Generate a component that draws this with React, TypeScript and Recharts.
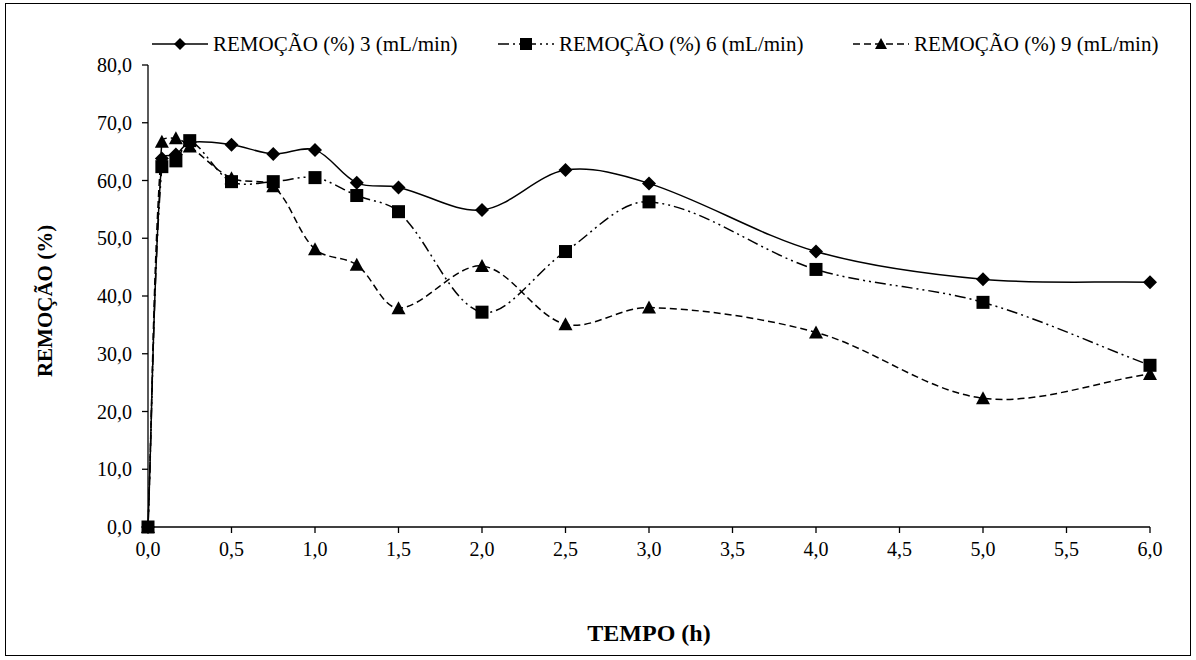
import React from 'react';
import { LineChart, Line, XAxis, YAxis, Label } from 'recharts';

// Sampling times (h)
const tempoH = [0, 0.083, 0.167, 0.25, 0.5, 0.75, 1.0, 1.25, 1.5, 2.0, 2.5, 3.0, 4.0, 5.0, 6.0];

// Removal (%) for each flow rate
const remocao3 = [0, 63.8, 64.5, 66.6, 66.2, 64.6, 65.3, 59.6, 58.8, 54.9, 61.8, 59.5, 47.7, 42.9, 42.4];
const remocao6 = [0, 62.4, 63.4, 66.9, 59.8, 59.8, 60.5, 57.4, 54.6, 37.2, 47.7, 56.3, 44.6, 38.9, 28.0];
const remocao9 = [0, 66.7, 67.3, 65.9, 60.4, 59.0, 48.1, 45.4, 37.9, 45.2, 35.1, 38.0, 33.7, 22.3, 26.5];

const seriesNames = ['REMOÇÃO (%) 3 (mL/min)', 'REMOÇÃO (%) 6 (mL/min)', 'REMOÇÃO (%) 9 (mL/min)'];

const xTicks = [0, 0.5, 1, 1.5, 2, 2.5, 3, 3.5, 4, 4.5, 5, 5.5, 6];
const yTicks = [0, 10, 20, 30, 40, 50, 60, 70, 80];

const xTitle = 'TEMPO (h)';
const yTitle = 'REMOÇÃO (%)';

const data = tempoH.map((t, i) => ({ t, r3: remocao3[i], r6: remocao6[i], r9: remocao9[i] }));

const FONT = '"Liberation Serif", "Times New Roman", serif';
const DASH6 = '11 4 2 4 2 4';
const DASH9 = '7 4';

const fmt = (v: number) => v.toFixed(1).replace('.', ',');

// Smoothed line: cubic Bézier segments whose control arms follow the
// neighbour chord and are scaled by the adjacent segment lengths.
function smoothCurve(context: any) {
  let pts: [number, number][] = [];
  const dist = (a: [number, number], b: [number, number]) => Math.hypot(b[0] - a[0], b[1] - a[1]);
  return {
    areaStart() {},
    areaEnd() {},
    lineStart() {
      pts = [];
    },
    point(x: number, y: number) {
      pts.push([+x, +y]);
    },
    lineEnd() {
      const n = pts.length;
      if (!n) return;
      context.moveTo(pts[0][0], pts[0][1]);
      if (n === 1) return;
      for (let i = 0; i < n - 1; i++) {
        const p0 = pts[Math.max(i - 1, 0)];
        const p1 = pts[i];
        const p2 = pts[i + 1];
        const p3 = pts[Math.min(i + 2, n - 1)];
        const d01 = dist(p0, p1);
        const d12 = dist(p1, p2);
        const d23 = dist(p2, p3);
        const k1 = d01 + d12 > 0 ? d12 / (d01 + d12) / 3 : 0;
        const k2 = d12 + d23 > 0 ? d12 / (d12 + d23) / 3 : 0;
        const c1x = p1[0] + (p2[0] - p0[0]) * k1;
        const c1y = p1[1] + (p2[1] - p0[1]) * k1;
        const c2x = p2[0] - (p3[0] - p1[0]) * k2;
        const c2y = p2[1] - (p3[1] - p1[1]) * k2;
        context.bezierCurveTo(c1x, c1y, c2x, c2y, p2[0], p2[1]);
      }
    },
  };
}

const diamondPath = (cx: number, cy: number, r: number) =>
  `M${cx},${cy - r}L${cx + r},${cy}L${cx},${cy + r}L${cx - r},${cy}Z`;
const trianglePath = (cx: number, cy: number, r: number) =>
  `M${cx},${cy - r}L${cx + r},${cy + r - 1}L${cx - r},${cy + r - 1}Z`;

const DiamondDot = (props: any) => {
  const { cx, cy, index } = props;
  if (cx == null || cy == null) return <g key={`d-${index}`} />;
  return <path key={`d-${index}`} d={diamondPath(cx, cy, 7)} fill="#000" />;
};
const SquareDot = (props: any) => {
  const { cx, cy, index } = props;
  if (cx == null || cy == null) return <g key={`s-${index}`} />;
  return <rect key={`s-${index}`} x={cx - 6.5} y={cy - 6.5} width={13} height={13} fill="#000" />;
};
const TriangleDot = (props: any) => {
  const { cx, cy, index } = props;
  if (cx == null || cy == null) return <g key={`t-${index}`} />;
  return <path key={`t-${index}`} d={trianglePath(cx, cy, 7)} fill="#000" />;
};

const YTitle = (props: any) => {
  const vb = props.viewBox || {};
  const x = 45;
  const y = vb.y + vb.height / 2 + 5;
  return (
    <text
      x={x}
      y={y}
      transform={`rotate(-90 ${x} ${y})`}
      textAnchor="middle"
      dominantBaseline="central"
      fontFamily={FONT}
      fontWeight="bold"
      fontSize={21}
      fill="#000"
    >
      {yTitle}
    </text>
  );
};

const XTitle = (props: any) => {
  const vb = props.viewBox || {};
  const x = vb.x + vb.width / 2;
  const y = vb.y + 106;
  return (
    <text x={x} y={y} textAnchor="middle" dominantBaseline="central" fontFamily={FONT} fontWeight="bold" fontSize={24} fill="#000">
      {xTitle}
    </text>
  );
};

const legendItems = [
  { name: seriesNames[0], dash: undefined as string | undefined, marker: 'diamond', left: 151 },
  { name: seriesNames[1], dash: DASH6, marker: 'square', left: 497 },
  { name: seriesNames[2], dash: DASH9, marker: 'triangle', left: 852 },
];

const LegendSample = ({ dash, marker }: { dash?: string; marker: string }) => (
  <svg width={58} height={16} style={{ display: 'block' }}>
    <line x1={1} y1={8} x2={57} y2={8} stroke="#000" strokeWidth={1.5} strokeDasharray={dash} />
    {marker === 'diamond' && <path d={diamondPath(29, 8, 6)} fill="#000" />}
    {marker === 'square' && <rect x={23} y={2} width={12} height={12} fill="#000" />}
    {marker === 'triangle' && <path d={trianglePath(29, 8, 6)} fill="#000" />}
  </svg>
);

export default function App() {
  return (
    <div style={{ position: 'absolute', left: 0, top: 0, width: 1196, height: 660, background: '#fff' }}>
      <LineChart
        width={1196}
        height={660}
        data={data}
        margin={{ top: 65, right: 46, bottom: 0, left: 0 }}
      >
        <XAxis
          dataKey="t"
          type="number"
          domain={[0, 6]}
          ticks={xTicks}
          interval={0}
          tickFormatter={fmt}
          height={133}
          tickSize={6}
          tickMargin={9}
          axisLine={{ stroke: '#000', strokeWidth: 1.3 }}
          tickLine={{ stroke: '#000', strokeWidth: 1.3 }}
          tick={{ fill: '#000', fontFamily: FONT, fontSize: 20 }}
        >
          <Label content={<XTitle />} />
        </XAxis>
        <YAxis
          type="number"
          domain={[0, 80]}
          ticks={yTicks}
          interval={0}
          tickFormatter={fmt}
          width={148}
          tickSize={6}
          tickMargin={10}
          axisLine={{ stroke: '#000', strokeWidth: 1.3 }}
          tickLine={{ stroke: '#000', strokeWidth: 1.3 }}
          tick={{ fill: '#000', fontFamily: FONT, fontSize: 20 }}
        >
          <Label content={<YTitle />} />
        </YAxis>
        <Line
          dataKey="r3"
          name={seriesNames[0]}
          type={smoothCurve as any}
          stroke="#000"
          strokeWidth={1.5}
          dot={DiamondDot}
          activeDot={false}
          isAnimationActive={false}
        />
        <Line
          dataKey="r6"
          name={seriesNames[1]}
          type={smoothCurve as any}
          stroke="#000"
          strokeWidth={1.5}
          strokeDasharray={DASH6}
          dot={SquareDot}
          activeDot={false}
          isAnimationActive={false}
        />
        <Line
          dataKey="r9"
          name={seriesNames[2]}
          type={smoothCurve as any}
          stroke="#000"
          strokeWidth={1.5}
          strokeDasharray={DASH9}
          dot={TriangleDot}
          activeDot={false}
          isAnimationActive={false}
        />
      </LineChart>

      {/* legend row */}
      {legendItems.map((it) => (
        <div
          key={it.name}
          style={{
            position: 'absolute',
            left: it.left,
            top: 33,
            display: 'flex',
            alignItems: 'center',
            fontFamily: FONT,
            fontSize: 21,
            color: '#000',
            whiteSpace: 'nowrap',
            lineHeight: '22px',
          }}
        >
          <LegendSample dash={it.dash} marker={it.marker} />
          <span style={{ marginLeft: 4 }}>{it.name}</span>
        </div>
      ))}

      {/* frame */}
      <div
        style={{
          position: 'absolute',
          left: 5,
          top: 3,
          width: 1186,
          height: 653,
          border: '1px solid #000',
          boxSizing: 'border-box',
          pointerEvents: 'none',
        }}
      />
    </div>
  );
}
